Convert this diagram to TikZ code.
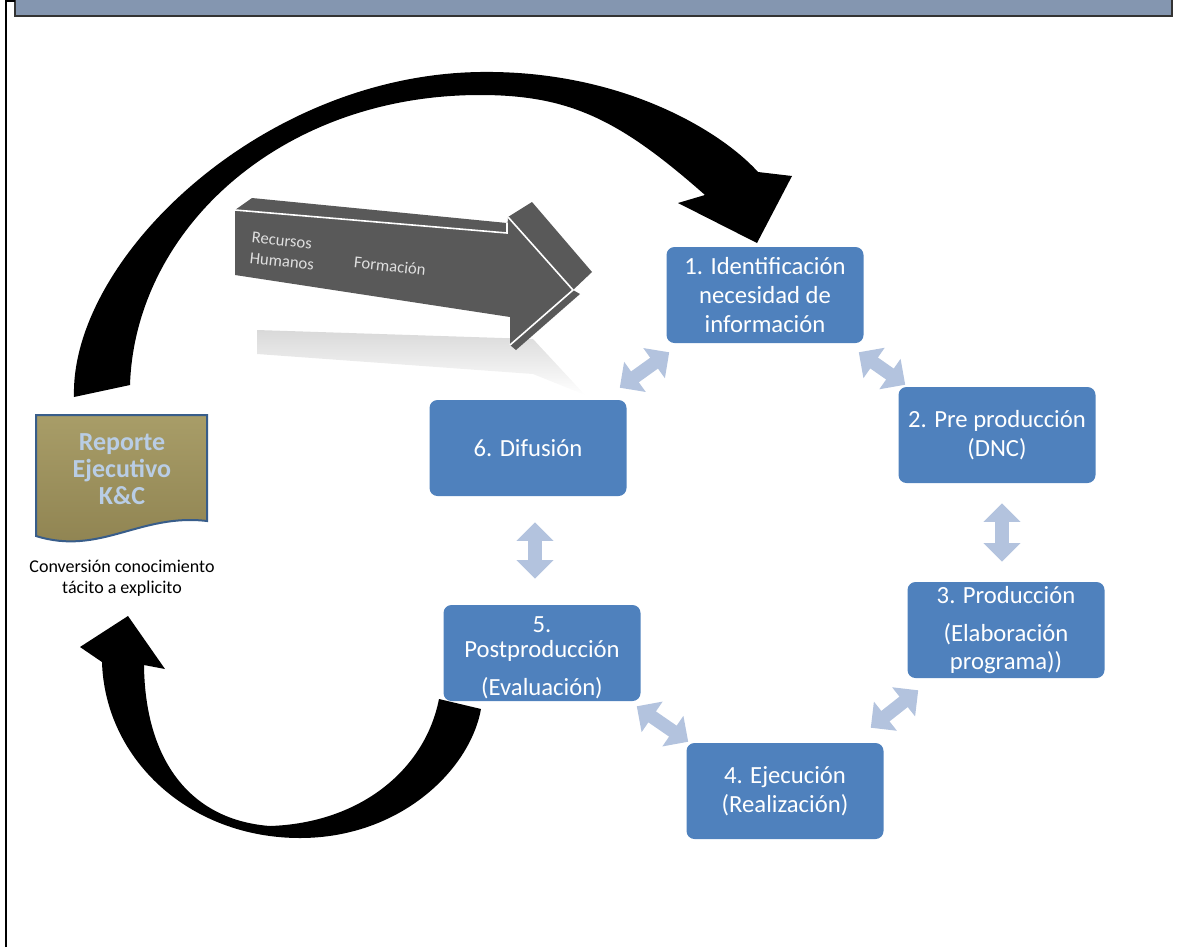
\documentclass[tikz,border=0pt]{standalone}
\usepackage{fontspec}
\setmainfont{Carlito}
\usepackage{xcolor}
\usepackage{tikz}
\usetikzlibrary{arrows.meta,positioning,calc}

\definecolor{stageblue}{HTML}{4F81BD}
\definecolor{linkblue}{HTML}{B3C3DE}
\definecolor{bargray}{HTML}{8496B0}
\definecolor{arrowgray}{HTML}{595959}
\definecolor{docgoldtop}{HTML}{A89D68}
\definecolor{docgoldbot}{HTML}{8E8250}
\definecolor{docedge}{HTML}{385D8A}
\definecolor{doctext}{HTML}{B9CDE5}

\begin{document}
\begin{tikzpicture}[
    x=0.75pt, y=-0.75pt,
    stagebox/.style={rectangle, fill=stageblue, rounded corners=6pt, minimum width=147.75pt, minimum height=72pt, align=center, text=white, font=\fontsize{18.5}{21.5}\selectfont, inner sep=0pt},
    link/.style={draw=linkblue, line width=10pt, {Triangle[length=14pt,width=27pt]}-{Triangle[length=14pt,width=27pt]}},
    armtext/.style={text=gray!25, font=\fontsize{12.5}{15.5}\selectfont, align=left, rotate=-6, inner sep=1pt}
]
    \useasboundingbox (0,0) rectangle (1185,947);

    % Frame
    \fill[bargray] (15,0) rectangle (1172,16);
    \draw[black!80, line width=0.9pt] (15,0) -- (15,16) -- (1172,16) -- (1172,0);
    \draw[black, line width=1.5pt] (6,947) -- (6,1) -- (15,1);

    % Stages
    \node[stagebox] (b1) at (765,295) {1. Identificación\\necesidad de\\información};
    \node[stagebox] (b2) at (997,435) {2. Pre producción\\(DNC)};
    \node[stagebox] (b3) at (1006,630) {3. Producción\\[7pt](Elaboración\\[-1pt]programa))};
    \node[stagebox] (b4) at (785,791) {4. Ejecución\\(Realización)};
    \node[stagebox] (b5) at (542,653) {};
    \node[align=center, text=white, font=\fontsize{18.5}{21.5}\selectfont, inner sep=0pt] (b5t) at (542,658) {5.\\[-3pt]Postproducción\\[7pt](Evaluación)};
    \node[stagebox] (b6) at (528,448) {6. Difusión};

    % Links between stages
    \draw[link] ([shift={(-5,9)}]b1.south east) -- ([shift={(7,-2)}]b2.north west);
    \draw[link] ([shift={(5,20)}]b2.south) -- ([shift={(-4,-20)}]b3.north);
    \draw[link] ([shift={(11,12)}]b3.south west) -- ([shift={(-13,-15)}]b4.north east);
    \draw[link] ([shift={(2,-1)}]b4.north west) -- ([shift={(-4,5)}]b5.south east);
    \draw[link] ([shift={(-7,-26)}]b5.north) -- ([shift={(7,26)}]b6.south);
    \draw[link] ([shift={(-7,-12)}]b6.north east) -- ([shift={(3,9)}]b1.south west);

    % Report
    \draw[docedge, line width=1.5pt, top color=docgoldtop, bottom color=docgoldbot]
        (36,415) -- (207,415) -- (207,521) .. controls (140,513) and (100,556) .. (36,536) -- cycle;
    \node[text=doctext, font=\bfseries\fontsize{19.5}{20.5}\selectfont, align=center] (rep) at (122,469) {Reporte\\Ejecutivo\\K\&C};
    \node[font=\fontsize{13.5}{15.75}\selectfont, align=center] (conv) at (122,578) {Conversión conocimiento\\tácito a explicito};

    % Big curved arrows
    \fill[black] (74,397) .. controls (70,260) and (260,75) .. (480,72)
        .. controls (620,70) and (720,130) .. (758,172) -- (792,176) -- (757,243) -- (678,203) -- (705,195)
        .. controls (620,120) and (570,95) .. (480,95)
        .. controls (280,95) and (135,230) .. (130,385) -- cycle;
    \fill[black] (128,616) -- (165,669) -- (144,665)
        .. controls (145,760) and (190,820) .. (270,826)
        .. controls (360,823) and (425,770) .. (439,699) -- (481,709)
        .. controls (470,770) and (400,838) .. (300,838)
        .. controls (190,838) and (105,760) .. (102,662) -- (80,647) -- cycle;

    % Training arrow
    \shade[top color=gray!30, bottom color=white, draw=none]
        (257,330) -- (533,339) -- (585,395) -- (533,374) -- (257,354) -- cycle;
    \fill[arrowgray] (235,210) -- (252,198) -- (507,223) -- (507,233) -- cycle;
    \fill[arrowgray] (508,217) -- (532,202) -- (592,272) -- (573,290) -- cycle;
    \fill[arrowgray] (573,290) -- (580,294) -- (516,350) -- (510,345) -- cycle;
    \fill[arrowgray] (235,210) -- (507,233) -- (508,217) -- (573,290) -- (510,345) -- (510,317) -- (235,275) -- cycle;
    \draw[white, line width=1.2pt] (235,210) -- (507,233) -- (507,223);
    \draw[white, line width=1.2pt] (508,217) -- (573,290) -- (510,345);
    \node[armtext] (rh) at (283,251) {Recursos\\Humanos};
    \node[armtext] (form) at (390,266) {Formación};
\end{tikzpicture}
\end{document}
